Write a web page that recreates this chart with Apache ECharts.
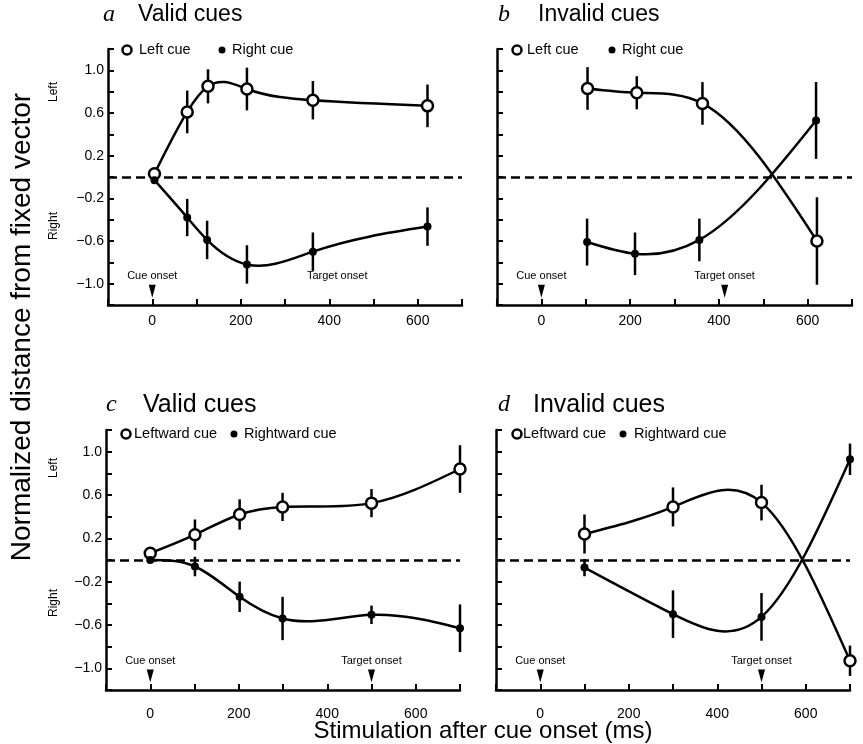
<!DOCTYPE html>
<html>
<head>
<meta charset="utf-8">
<script src="https://cdn.jsdelivr.net/npm/echarts@6/dist/echarts.min.js"></script>
<style>
html,body{margin:0;padding:0;background:#fff;}
#main{width:863px;height:744px;}
</style>
</head>
<body>
<div id="main"></div>
<script>
// tick labels that are printed (other ticks stay bare)
const xTickLabels = [0, 200, 400, 600];
const yTickLabels = [1.0, 0.6, 0.2, -0.2, -0.6, -1.0];

// panel a - valid cues
const aLeftX = [5, 79, 126, 214, 363, 622];
const aLeftY = [0.03, 0.61, 0.85, 0.825, 0.72, 0.667];
const aLeftErr = [0, 0.2, 0.16, 0.2, 0.18, 0.2];
const aRightX = [5, 79, 124, 214, 363, 622];
const aRightY = [-0.03, -0.38, -0.59, -0.82, -0.70, -0.465];
const aRightErr = [0, 0.175, 0.18, 0.18, 0.18, 0.18];

// panel b - invalid cues
const bLeftX = [104, 215, 363, 621];
const bLeftY = [0.83, 0.79, 0.69, -0.60];
const bLeftErr = [0.2, 0.155, 0.2, 0.41];
const bRightX = [103, 211, 356, 619];
const bRightY = [-0.61, -0.72, -0.59, 0.53];
const bRightErr = [0.22, 0.2, 0.2, 0.36];

// panel c - valid cues
const cLeftX = [0, 101, 202, 299, 500, 700];
const cLeftY = [0.063, 0.234, 0.42, 0.49, 0.525, 0.84];
const cLeftErr = [0, 0.14, 0.14, 0.13, 0.13, 0.22];
const cRightX = [0, 101, 202, 299, 500, 700];
const cRightY = [0, -0.06, -0.34, -0.54, -0.506, -0.63];
const cRightErr = [0, 0.09, 0.14, 0.2, 0.085, 0.22];

// panel d - invalid cues
const dLeftX = [100, 300, 500, 700];
const dLeftY = [0.24, 0.49, 0.53, -0.93];
const dLeftErr = [0.18, 0.18, 0.165, 0.14];
const dRightX = [100, 300, 500, 700];
const dRightY = [-0.07, -0.5, -0.525, 0.93];
const dRightErr = [0.08, 0.22, 0.22, 0.145];

// onset markers (x in ms)
const aOnsets = [{x: 0, label: 'Cue onset', arrow: true}, {x: 418, label: 'Target onset', arrow: false}];
const bOnsets = [{x: 0, label: 'Cue onset', arrow: true}, {x: 413, label: 'Target onset', arrow: true}];
const cOnsets = [{x: 0, label: 'Cue onset', arrow: true}, {x: 500, label: 'Target onset', arrow: true}];
const dOnsets = [{x: 0, label: 'Cue onset', arrow: true}, {x: 500, label: 'Target onset', arrow: true}];

const FONT = '"Liberation Sans", Arial, Helvetica, sans-serif';
const ARROW_Y = -1.07;

function zip(xs, ys, es) {
  return xs.map((x, i) => es ? [x, ys[i], es[i]] : [x, ys[i]]);
}

// slopes of a natural cubic spline through the points (dy/dx at each x)
function splineSlopes(xs, ys) {
  const n = xs.length;
  const h = [], M = new Array(n).fill(0);
  for (let i = 0; i < n - 1; i++) h[i] = xs[i + 1] - xs[i];
  const a = [], b = [], c = [], d = [];
  for (let i = 1; i < n - 1; i++) {
    a[i] = h[i - 1];
    b[i] = 2 * (h[i - 1] + h[i]);
    c[i] = h[i];
    d[i] = 6 * ((ys[i + 1] - ys[i]) / h[i] - (ys[i] - ys[i - 1]) / h[i - 1]);
  }
  for (let i = 2; i < n - 1; i++) { //forward sweep
    const w = a[i] / b[i - 1];
    b[i] -= w * c[i - 1];
    d[i] -= w * d[i - 1];
  }
  for (let i = n - 2; i >= 1; i--) { //back substitution
    M[i] = (d[i] - (i < n - 2 ? c[i] * M[i + 1] : 0)) / b[i];
  }
  const m = [];
  for (let i = 0; i < n - 1; i++) m[i] = (ys[i + 1] - ys[i]) / h[i] - h[i] * (2 * M[i] + M[i + 1]) / 6;
  m[n - 1] = (ys[n - 1] - ys[n - 2]) / h[n - 2] + h[n - 2] * (M[n - 2] + 2 * M[n - 1]) / 6;
  return m;
}

// the fitted curve: one bezier piece per interval, placed through the axes
function splineCurve(gi, xs, ys) {
  const m = splineSlopes(xs, ys);
  return {
    type: 'custom',
    xAxisIndex: gi,
    yAxisIndex: gi,
    z: 4,
    silent: true,
    data: zip(xs, ys),
    encode: {x: 0, y: 1},
    renderItem: function (params, api) {
      const i = params.dataIndex;
      if (i >= xs.length - 1) return;
      const h = xs[i + 1] - xs[i];
      const p0 = api.coord([xs[i], ys[i]]);
      const c1 = api.coord([xs[i] + h / 3, ys[i] + m[i] * h / 3]);
      const c2 = api.coord([xs[i + 1] - h / 3, ys[i + 1] - m[i + 1] * h / 3]);
      const p1 = api.coord([xs[i + 1], ys[i + 1]]);
      return {
        type: 'bezierCurve',
        shape: {x1: p0[0], y1: p0[1], cpx1: c1[0], cpy1: c1[1], cpx2: c2[0], cpy2: c2[1], x2: p1[0], y2: p1[1]},
        style: {stroke: '#000', lineWidth: 2.5, fill: 'none'},
      };
    },
  };
}

function markers(gi, name, xs, ys, open, onsets) {
  const s = {
    name: name,
    type: 'scatter',
    xAxisIndex: gi,
    yAxisIndex: gi,
    data: zip(xs, ys),
    z: 5,
    symbol: 'circle',
    symbolSize: open ? 11 : 8,
    itemStyle: open ? {color: '#fff', borderColor: '#000', borderWidth: 2.5, opacity: 1} : {color: '#000', opacity: 1},
    emphasis: {disabled: true},
  };
  if (onsets) { //zero line and onset arrows hang on this series
    s.markLine = {
      silent: true,
      symbol: ['none', 'none'],
      label: {show: false},
      lineStyle: {color: '#000', width: 2.5, type: [9, 5]},
      data: [{yAxis: 0}],
    };
    s.markPoint = {
      silent: true,
      symbol: 'triangle',
      symbolRotate: 180,
      data: onsets.map(o => ({
        coord: [o.x, ARROW_Y],
        symbolSize: [7, 13],
        itemStyle: {color: o.arrow ? '#000' : 'rgba(0,0,0,0)', borderWidth: 0},
        label: {
          show: true, position: 'top', distance: 3, formatter: o.label,
          color: '#000', fontSize: 11, fontFamily: FONT,
        },
      })),
    };
  }
  return s;
}

function errBars(gi, xs, ys, es) {
  return {
    type: 'custom',
    xAxisIndex: gi,
    yAxisIndex: gi,
    z: 3,
    silent: true,
    data: zip(xs, ys, es),
    encode: {x: 0, y: 1},
    renderItem: function (params, api) {
      const x = api.value(0), y = api.value(1), e = api.value(2);
      if (!e) return;
      const p1 = api.coord([x, y - e]);
      const p2 = api.coord([x, y + e]);
      return {
        type: 'line',
        shape: {x1: p1[0], y1: p1[1], x2: p2[0], y2: p2[1]},
        style: {stroke: '#000', lineWidth: 2.5},
      };
    },
  };
}

const grids = [
  {left: 108, top: 49, width: 354, height: 256},
  {left: 497, top: 49, width: 355, height: 256},
  {left: 106, top: 430, width: 354, height: 260},
  {left: 496, top: 430, width: 354, height: 260},
];

const axisLine = {show: true, onZero: false, lineStyle: {color: '#000', width: 2.5}};
const axisTick = {show: true, inside: true, length: 6, lineStyle: {color: '#000', width: 2}};

const xAxes = grids.map((g, i) => ({
  gridIndex: i,
  type: 'value',
  min: -100,
  max: 700,
  interval: 100,
  axisLine: axisLine,
  axisTick: axisTick,
  splitLine: {show: false},
  axisLabel: {
    margin: i < 2 ? 9 : 17,
    color: '#000',
    fontSize: 14,
    fontFamily: FONT,
    formatter: v => xTickLabels.indexOf(Math.round(v)) >= 0 ? String(Math.round(v)) : '',
  },
}));

const yAxes = grids.map((g, i) => ({
  gridIndex: i,
  type: 'value',
  min: -1.2,
  max: 1.2,
  interval: 0.2,
  axisLine: axisLine,
  axisTick: axisTick,
  splitLine: {show: false},
  axisLabel: {
    show: i % 2 === 0,
    margin: 4,
    color: '#000',
    fontSize: 14,
    fontFamily: FONT,
    formatter: function (v) {
      const r = Math.round(v * 10) / 10;
      if (yTickLabels.indexOf(r) < 0) return '';
      return (r < 0 ? '\u2212' : '') + Math.abs(r).toFixed(1);
    },
  },
}));

const series = [
  errBars(0, aLeftX, aLeftY, aLeftErr),
  errBars(0, aRightX, aRightY, aRightErr),
  splineCurve(0, aLeftX, aLeftY),
  splineCurve(0, aRightX, aRightY),
  markers(0, 'Left cue', aLeftX, aLeftY, true, aOnsets),
  markers(0, 'Right cue', aRightX, aRightY, false),

  errBars(1, bLeftX, bLeftY, bLeftErr),
  errBars(1, bRightX, bRightY, bRightErr),
  splineCurve(1, bLeftX, bLeftY),
  splineCurve(1, bRightX, bRightY),
  markers(1, 'Left cue', bLeftX, bLeftY, true, bOnsets),
  markers(1, 'Right cue', bRightX, bRightY, false),

  errBars(2, cLeftX, cLeftY, cLeftErr),
  errBars(2, cRightX, cRightY, cRightErr),
  splineCurve(2, cLeftX, cLeftY),
  splineCurve(2, cRightX, cRightY),
  markers(2, 'Leftward cue', cLeftX, cLeftY, true, cOnsets),
  markers(2, 'Rightward cue', cRightX, cRightY, false),

  errBars(3, dLeftX, dLeftY, dLeftErr),
  errBars(3, dRightX, dRightY, dRightErr),
  splineCurve(3, dLeftX, dLeftY),
  splineCurve(3, dRightX, dRightY),
  markers(3, 'Leftward cue', dLeftX, dLeftY, true, dOnsets),
  markers(3, 'Rightward cue', dRightX, dRightY, false),
];

// text helpers for the graphic layer
function txt(x, y, text, font, align, rot) {
  return {
    type: 'text', x: x, y: y, rotation: rot || 0, silent: true,
    style: {text: text, font: font, fill: '#000', textAlign: align || 'left', textVerticalAlign: 'middle'},
  };
}
function dot(x, y, open) {
  return {
    type: 'circle', silent: true, shape: {cx: x, cy: y, r: open ? 4.5 : 3.5},
    style: open ? {fill: '#fff', stroke: '#000', lineWidth: 2.5} : {fill: '#000'},
  };
}

const legendFont = '14.5px ' + FONT;
const sideFont = '12px ' + FONT;
const graphic = [
  // panel titles
  txt(103, 15, 'a', 'italic 24px "Liberation Serif", serif'),
  txt(138, 15, 'Valid cues', '23px ' + FONT),
  txt(498, 15, 'b', 'italic 24px "Liberation Serif", serif'),
  txt(538, 15, 'Invalid cues', '23px ' + FONT),
  txt(106, 405, 'c', 'italic 24px "Liberation Serif", serif'),
  txt(143, 405, 'Valid cues', '25px ' + FONT),
  txt(498, 405, 'd', 'italic 24px "Liberation Serif", serif'),
  txt(533, 405, 'Invalid cues', '25px ' + FONT),
  // legends
  dot(127, 50, true), txt(139, 50, 'Left cue', legendFont),
  dot(222, 50, false), txt(232, 50, 'Right cue', legendFont),
  dot(517, 50, true), txt(527, 50, 'Left cue', legendFont),
  dot(612, 50, false), txt(622, 50, 'Right cue', legendFont),
  dot(126, 434, true), txt(134, 434, 'Leftward cue', legendFont),
  dot(234, 434, false), txt(244, 434, 'Rightward cue', legendFont),
  dot(517, 434, true), txt(523, 434, 'Leftward cue', legendFont),
  dot(623, 434, false), txt(634, 434, 'Rightward cue', legendFont),
  // Left / Right side labels
  txt(54, 92, 'Left', sideFont, 'center', Math.PI / 2),
  txt(54, 226, 'Right', sideFont, 'center', Math.PI / 2),
  txt(54, 468, 'Left', sideFont, 'center', Math.PI / 2),
  txt(54, 603, 'Right', sideFont, 'center', Math.PI / 2),
  // axis titles
  txt(22, 327, 'Normalized distance from fixed vector', '28px ' + FONT, 'center', Math.PI / 2),
  txt(483, 731, 'Stimulation after cue onset (ms)', '24px ' + FONT, 'center'),
];

const chart = echarts.init(document.getElementById('main'), null, {renderer: 'canvas'});
chart.setOption({
  animation: false,
  backgroundColor: '#fff',
  grid: grids,
  xAxis: xAxes,
  yAxis: yAxes,
  tooltip: {show: false},
  series: series,
  graphic: graphic,
});
</script>
</body>
</html>
